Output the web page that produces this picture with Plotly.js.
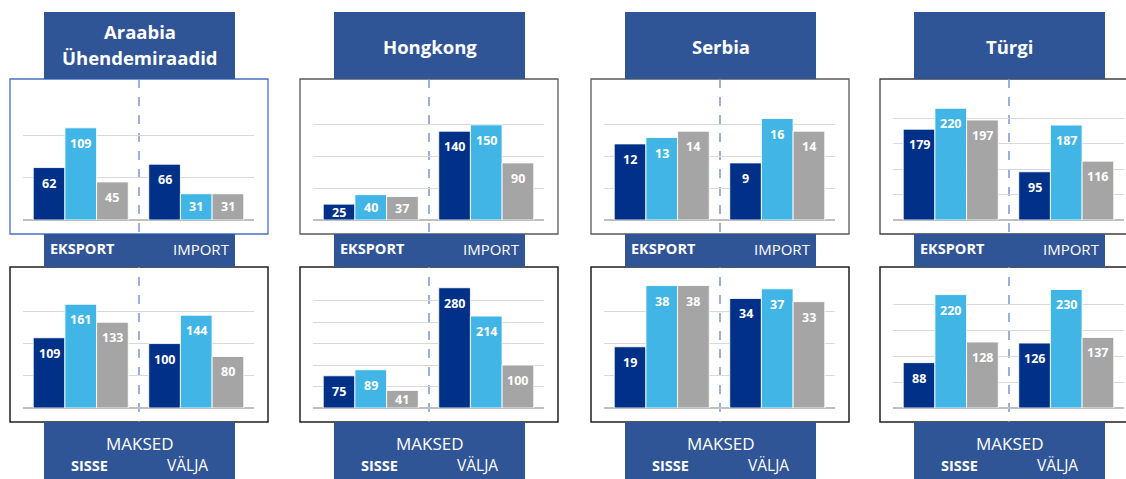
<!DOCTYPE html>
<html><head><meta charset="utf-8">
<script src="https://cdn.plot.ly/plotly-3.0.1.min.js"></script>
<style>html,body{margin:0;padding:0;background:#fff}#chart{width:1126px;height:479px}</style>
</head><body><div id="chart"></div>
<script>
// ---------- DATA ----------
const countryTitles = [['Araabia','Ühendemiraadid'],['Hongkong'],['Serbia'],['Türgi']];
const tradeCats = ['EKSPORT','IMPORT'];
const payCats = ['SISSE','VÄLJA'];
const paySectionLabel = 'MAKSED';
const seriesNames = ['Seeria 1','Seeria 2','Seeria 3'];

// per country: [EKSPORT, IMPORT]
const tradeSeries1 = [[62,66],[25,140],[12,9],[179,95]];
const tradeSeries2 = [[109,31],[40,150],[13,16],[220,187]];
const tradeSeries3 = [[45,31],[37,90],[14,14],[197,116]];
// per country: [SISSE, VÄLJA]
const paySeries1 = [[109,100],[75,280],[19,34],[88,126]];
const paySeries2 = [[161,144],[89,214],[38,37],[220,230]];
const paySeries3 = [[133,80],[41,100],[38,33],[128,137]];

const tradeAxisMax = [150,200,20,250];
const tradeAxisStep = [50,50,5,50];
const payAxisMax = [200,300,40,250];
const payAxisStep = [50,50,10,50];

// ---------- STYLE / LAYOUT ----------
const W = 1126, H = 479;
const px = x => x / W;
const py = y => 1 - y / H;
const colOffsets = [0, 290, 581, 870];
const seriesColors = ['#003087', '#41B6E6', '#A5A5A5'];
const boxBlue = '#2F5597';
const FONT = 'Open Sans, Noto Sans, sans-serif';
const BARGAP = 0.177;
const plotX0 = 23, plotX1 = 254;
const topY0 = 93, topY1 = 220;
const botY0 = 279, botY1 = 408;

const data = [];
const layout = {
  width: W, height: H,
  margin: {l: 0, r: 0, t: 0, b: 0},
  paper_bgcolor: '#ffffff',
  plot_bgcolor: 'rgba(0,0,0,0)',
  showlegend: false,
  barmode: 'group',
  bargap: BARGAP,
  bargroupgap: 0,
  shapes: [],
  annotations: [],
  font: {family: FONT}
};

function addSubplot(k, cats, seriesList, ymax, ystep, xOff, yTop, yBot) {
  const xa = k === 1 ? 'xaxis' : 'xaxis' + k;
  const ya = k === 1 ? 'yaxis' : 'yaxis' + k;
  const xr = k === 1 ? 'x' : 'x' + k;
  const yr = k === 1 ? 'y' : 'y' + k;
  layout[xa] = {
    domain: [px(xOff + plotX0), px(xOff + plotX1)],
    anchor: yr, type: 'category', showticklabels: false, showgrid: false,
    zeroline: false, showline: false, ticks: '', fixedrange: true
  };
  layout[ya] = {
    domain: [py(yBot), py(yTop)],
    anchor: xr, range: [0, ymax * 1.001], dtick: ystep, tick0: 0,
    showticklabels: false, showgrid: true, gridcolor: '#D9D9D9', gridwidth: 1,
    zeroline: true, zerolinecolor: '#BFBFBF', zerolinewidth: 1.5,
    showline: false, ticks: '', fixedrange: true
  };
  const plotW = plotX1 - plotX0;
  const plotH = yBot - yTop;
  const barW = plotW / cats.length * (1 - BARGAP) / seriesList.length;
  seriesList.forEach((vals, s) => {
    data.push({
      type: 'bar', x: cats, y: vals, name: seriesNames[s],
      xaxis: xr, yaxis: yr,
      marker: {color: seriesColors[s], line: {color: 'rgba(255,255,255,0.85)', width: 1}},
      hoverinfo: 'y'
    });
    vals.forEach((v, j) => {
      const h = v * plotH / ymax;
      layout.annotations.push({
        x: cats[j], y: v, xref: xr, yref: yr,
        xshift: (s - (seriesList.length - 1) / 2) * barW,
        yshift: -Math.min(15.5, h / 2),
        yanchor: 'middle', xanchor: 'center', showarrow: false,
        text: String(v),
        font: {family: FONT, size: 12.5, color: '#ffffff', weight: 700}
      });
    });
  });
}

function rect(x0, y0, x1, y1, fill, lineColor, lineWidth, layer) {
  layout.shapes.push({
    type: 'rect', xref: 'paper', yref: 'paper',
    x0: px(x0), x1: px(x1), y0: py(y1), y1: py(y0),
    fillcolor: fill, line: {color: lineColor, width: lineWidth}, layer: layer
  });
}
function label(text, x, y, size, bold) {
  layout.annotations.push({
    x: px(x), y: py(y), xref: 'paper', yref: 'paper', showarrow: false,
    xanchor: 'center', yanchor: 'middle', text: text,
    font: {family: FONT, size: size, color: '#ffffff', weight: bold ? 700 : 400}
  });
}

const topBorders = ['#4472C4', '#595959', '#595959', '#404040'];

countryTitles.forEach((title, c) => {
  const o = colOffsets[c];
  // chart boxes
  rect(o + 10, 79, o + 268, 234, '#ffffff', topBorders[c], 1.3, 'below');
  rect(o + 10, 267, o + 268, 422, '#ffffff', '#1F1F1F', 1.5, 'below');
  // dashed divider
  layout.shapes.push({
    type: 'line', xref: 'paper', yref: 'paper',
    x0: px(o + 139), x1: px(o + 139), y0: py(79), y1: py(422),
    line: {color: '#7A95CF', width: 1.5, dash: 'dash'}, layer: 'below'
  });
  // label boxes
  rect(o + 44, 12, o + 235, 79, boxBlue, boxBlue, 0, 'above');
  rect(o + 44, 234, o + 235, 267, boxBlue, boxBlue, 0, 'above');
  rect(o + 44, 422, o + 235, 480, boxBlue, boxBlue, 0, 'above');

  // titles
  if (title.length === 2) {
    label(title[0], o + 139.5, 31, 18.5, true);
    label(title[1], o + 139.5, 57, 18.5, true);
  } else {
    label(title[0], o + 139.5, 46, 18.5, true);
  }
  label(tradeCats[0], o + 82, 249, 14.5, true);
  label(tradeCats[1], o + 201.5, 249, 15, false);
  label(paySectionLabel, o + 139.5, 443, 17, false);
  label(payCats[0], o + 89, 465, 14.5, true);
  label(payCats[1], o + 187.5, 465, 15.5, false);

  addSubplot(c + 1, tradeCats,
    [tradeSeries1[c], tradeSeries2[c], tradeSeries3[c]],
    tradeAxisMax[c], tradeAxisStep[c], o, topY0, topY1);
  addSubplot(c + 5, payCats,
    [paySeries1[c], paySeries2[c], paySeries3[c]],
    payAxisMax[c], payAxisStep[c], o, botY0, botY1);
});

Plotly.newPlot('chart', data, layout, {staticPlot: true, displayModeBar: false});
</script>
</body></html>
